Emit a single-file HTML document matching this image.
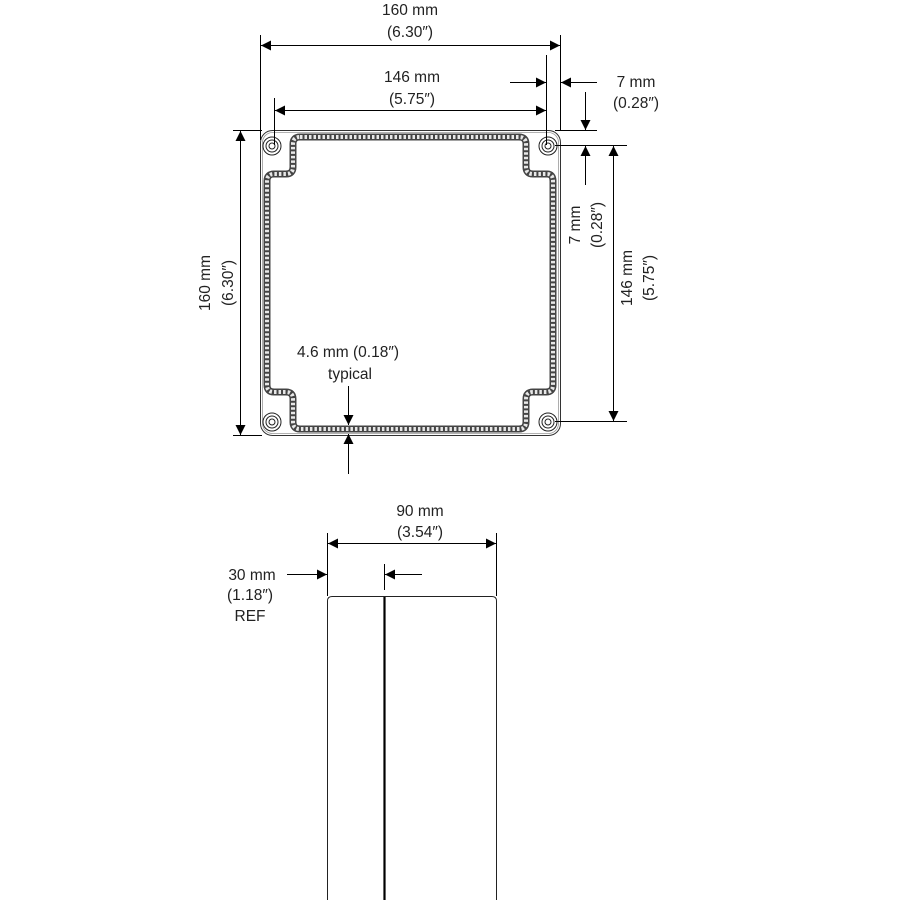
<!DOCTYPE html>
<html><head><style>
html,body{margin:0;padding:0;background:#fff;}
svg{display:block;}
text{font-family:"Liberation Sans",sans-serif;font-size:15.5px;fill:#222;}
</style></head><body>
<svg width="900" height="900" viewBox="0 0 900 900" xmlns="http://www.w3.org/2000/svg">
<defs>
<marker id="a" viewBox="0 0 10 10" refX="10" refY="5" markerWidth="14" markerHeight="10" markerUnits="userSpaceOnUse" orient="auto-start-reverse"><path d="M0,0 L10,5 L0,10 Z" fill="#000"/></marker>
</defs>
<g stroke="#000" stroke-width="1" fill="none">
<rect x="260.5" y="130.5" width="300" height="305" rx="12" stroke="#333"/>
<rect x="262.5" y="132.5" width="296" height="301" rx="10" stroke="#999" stroke-width="0.8"/>
<path d="M300,137 H519 Q526,137 526,144 V167 Q526,174 533,174 H547 Q553,174 553,181 V385 Q553,392 546,392 H533 Q526,392 526,399 V422 Q526,429 519,429 H300 Q293,429 293,422 V399 Q293,392 286,392 H274 Q267,392 267,385 V181 Q267,174 274,174 H286 Q293,174 293,167 V144 Q293,137 300,137 Z" stroke="#444" stroke-width="7"/>
<path d="M300,137 H519 Q526,137 526,144 V167 Q526,174 533,174 H547 Q553,174 553,181 V385 Q553,392 546,392 H533 Q526,392 526,399 V422 Q526,429 519,429 H300 Q293,429 293,422 V399 Q293,392 286,392 H274 Q267,392 267,385 V181 Q267,174 274,174 H286 Q293,174 293,167 V144 Q293,137 300,137 Z" stroke="#e8e8e8" stroke-width="4" stroke-dasharray="2.5 2"/>
<g stroke="#222">
<circle cx="272" cy="146" r="9"/><circle cx="272" cy="146" r="6"/><circle cx="272" cy="146" r="3"/>
<circle cx="548" cy="146" r="9"/><circle cx="548" cy="146" r="6"/><circle cx="548" cy="146" r="3"/>
<circle cx="272" cy="422" r="9"/><circle cx="272" cy="422" r="6"/><circle cx="272" cy="422" r="3"/>
<circle cx="548" cy="422" r="9"/><circle cx="548" cy="422" r="6"/><circle cx="548" cy="422" r="3"/>
</g>
<line x1="260.5" y1="35" x2="260.5" y2="140"/>
<line x1="560.5" y1="35" x2="560.5" y2="130"/>
<line x1="274.5" y1="98" x2="274.5" y2="145"/>
<line x1="546.5" y1="55" x2="546.5" y2="145"/>
<line x1="555" y1="130.5" x2="597" y2="130.5"/>
<line x1="555" y1="145.5" x2="627" y2="145.5"/>
<line x1="555" y1="421.5" x2="627" y2="421.5"/>
<line x1="233" y1="130.5" x2="262" y2="130.5"/>
<line x1="233" y1="435.5" x2="262" y2="435.5"/>
<line x1="261" y1="45.5" x2="560" y2="45.5" marker-start="url(#a)" marker-end="url(#a)"/>
<line x1="275" y1="110.5" x2="546" y2="110.5" marker-start="url(#a)" marker-end="url(#a)"/>
<line x1="510" y1="82.5" x2="546" y2="82.5" marker-end="url(#a)"/>
<line x1="597" y1="82.5" x2="561" y2="82.5" marker-end="url(#a)"/>
<line x1="585.5" y1="92" x2="585.5" y2="130" marker-end="url(#a)"/>
<line x1="585.5" y1="185" x2="585.5" y2="146" marker-end="url(#a)"/>
<line x1="613.5" y1="146" x2="613.5" y2="421" marker-start="url(#a)" marker-end="url(#a)"/>
<line x1="240.5" y1="131" x2="240.5" y2="435" marker-start="url(#a)" marker-end="url(#a)"/>
<line x1="348.5" y1="386" x2="348.5" y2="425" marker-end="url(#a)"/>
<line x1="348.5" y1="474" x2="348.5" y2="434" marker-end="url(#a)"/>
<path d="M327.5,900 V601 Q327.5,596.5 332,596.5 H492 Q496.5,596.5 496.5,601 V900" stroke="#222"/>
<line x1="384.5" y1="597" x2="384.5" y2="900" stroke-width="2.2"/>
<line x1="327.5" y1="533" x2="327.5" y2="596"/>
<line x1="496.5" y1="533" x2="496.5" y2="596"/>
<line x1="384.5" y1="564" x2="384.5" y2="590"/>
<line x1="328" y1="543.5" x2="496" y2="543.5" marker-start="url(#a)" marker-end="url(#a)"/>
<line x1="287" y1="574.5" x2="327" y2="574.5" marker-end="url(#a)"/>
<line x1="422" y1="574.5" x2="385" y2="574.5" marker-end="url(#a)"/>
</g>
<g text-anchor="middle">
<text x="410" y="15">160 mm</text><text x="410" y="37">(6.30″)</text>
<text x="412" y="82">146 mm</text><text x="412" y="104">(5.75″)</text>
<text x="636" y="87">7 mm</text><text x="636" y="108">(0.28″)</text>
<text x="348" y="357">4.6 mm (0.18″)</text><text x="350" y="379">typical</text>
<text x="420" y="516">90 mm</text><text x="420" y="537">(3.54″)</text>
<text x="252" y="580">30 mm</text><text x="250" y="600">(1.18″)</text><text x="250" y="621">REF</text>
<text transform="translate(210,283) rotate(-90)">160 mm</text>
<text transform="translate(233,283) rotate(-90)">(6.30″)</text>
<text transform="translate(580,225) rotate(-90)">7 mm</text>
<text transform="translate(602,225) rotate(-90)">(0.28″)</text>
<text transform="translate(632,278) rotate(-90)">146 mm</text>
<text transform="translate(654,278) rotate(-90)">(5.75″)</text>
</g>
</svg>
</body></html>
